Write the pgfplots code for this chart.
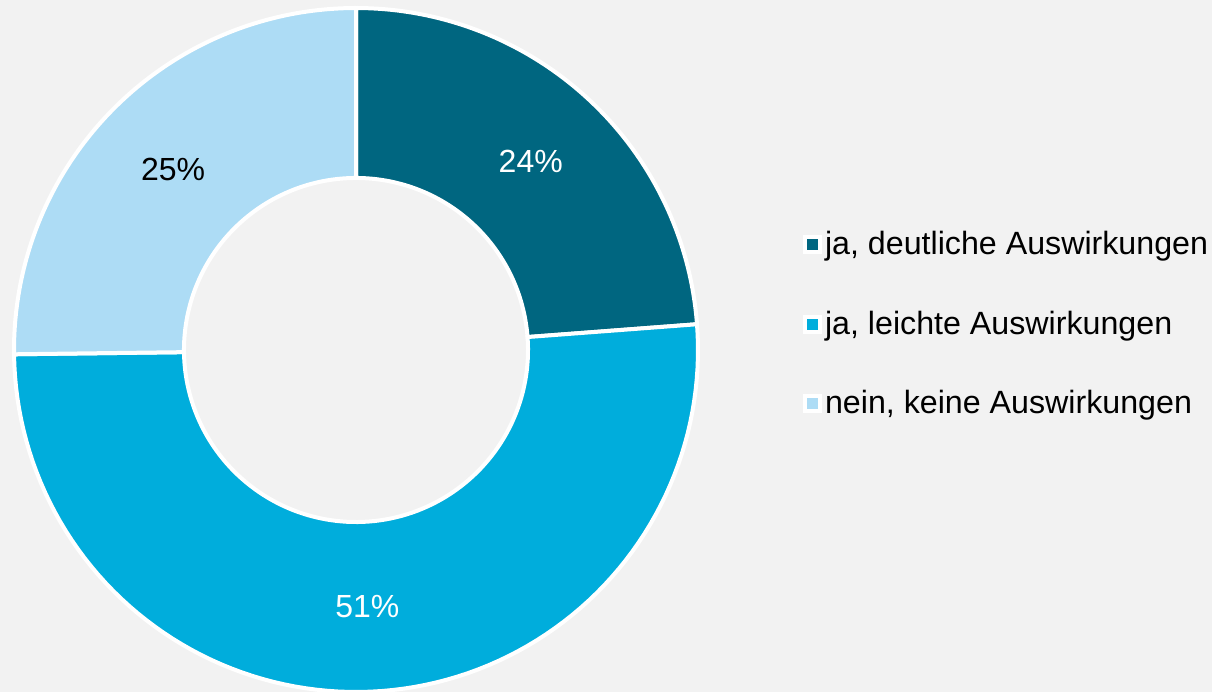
\documentclass[border=0pt]{standalone}
\usepackage{pgfplots}
\pgfplotsset{compat=1.18}
\usepackage{fontspec}
\setmainfont{Liberation Sans}
\definecolor{bgcol}{HTML}{F2F2F2}
\definecolor{cA}{HTML}{006680}
\definecolor{cB}{HTML}{00ADDC}
\definecolor{cC}{HTML}{ADDCF5}
% data (percent; labels show rounded values)
\def\vA{23.8}
\def\vB{51.0}
\def\vC{25.2}
\def\rin{0.503}
\newcommand{\seg}[3]{%
\addplot[fill=#1, draw=white, line width=2pt, variable=\t,
  samples at={0,1,...,100,200,201,...,300}]
 ({((\t<150) ? 1 : \rin)*cos((\t<150) ? ((#2)+((#3)-(#2))*\t/100) : ((#3)-((#3)-(#2))*(\t-200)/100))},
  {((\t<150) ? 1 : \rin)*sin((\t<150) ? ((#2)+((#3)-(#2))*\t/100) : ((#3)-((#3)-(#2))*(\t-200)/100))}) -- cycle;
}
\newcommand{\pct}[1]{\pgfmathprintnumber[fixed,precision=0,assume math mode=true]{#1}\%}
\begin{document}
\begin{tikzpicture}
\fill[bgcol] (0,0) rectangle (606pt,346pt);
\pgfmathsetmacro\aA{90}
\pgfmathsetmacro\bA{90-\vA*3.6}
\pgfmathsetmacro\bB{\bA-\vB*3.6}
\pgfmathsetmacro\bC{\bB-\vC*3.6}
\pgfmathsetmacro\mA{(\aA+\bA)/2}
\pgfmathsetmacro\mB{(\bA+\bB)/2}
\pgfmathsetmacro\mC{(\bB+\bC)/2}
\pgfmathsetmacro\rm{(1+\rin)/2}
\begin{axis}[
  at={(178pt,171pt)}, anchor=center,
  width=342pt, height=342pt, scale only axis,
  xmin=-1, xmax=1, ymin=-1, ymax=1,
  axis lines=none, clip=false,
  legend style={draw=none, fill=none, at={(1.153,0.538)}, anchor=west,
    font=\fontsize{16.1pt}{18pt}\selectfont, row sep=23.5pt,
    inner sep=0pt, nodes={inner sep=1.5pt}},
  legend cell align=left,
  legend image code/.code={\draw[#1] (0pt,-3.75pt) rectangle (7.5pt,3.75pt);},
]
\seg{cA}{\aA}{\bA}
\addlegendentry{ja, deutliche Auswirkungen}
\seg{cB}{\bA}{\bB}
\addlegendentry{ja, leichte Auswirkungen}
\seg{cC}{\bB}{\bC}
\addlegendentry{nein, keine Auswirkungen}
\node[text=white, font=\fontsize{16pt}{18pt}\selectfont] at (axis cs:{\rm*cos(\mA)},{\rm*sin(\mA)}) {\pct{\vA}};
\node[text=white, font=\fontsize{16pt}{18pt}\selectfont] at (axis cs:{\rm*cos(\mB)},{\rm*sin(\mB)}) {\pct{\vB}};
\node[text=black, font=\fontsize{16pt}{18pt}\selectfont] at (axis cs:{\rm*cos(\mC)},{\rm*sin(\mC)}) {\pct{\vC}};
\end{axis}
\pgfresetboundingbox
\useasboundingbox (0,0) rectangle (606pt,346pt);
\end{tikzpicture}
\end{document}
